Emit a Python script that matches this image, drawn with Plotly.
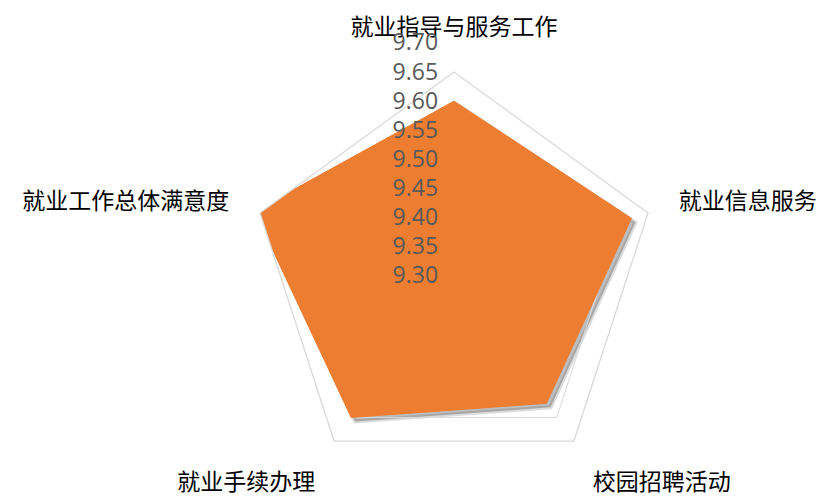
import plotly.graph_objects as go

categories = ["就业指导与服务工作", "就业信息服务", "校园招聘活动", "就业手续办理", "就业工作总体满意度"]
values = [9.60, 9.62, 9.57, 9.60, 9.66]
tick_vals = [9.30, 9.35, 9.40, 9.45, 9.50, 9.55, 9.60, 9.65, 9.70]
tick_text = ["9.30", "9.35", "9.40", "9.45", "9.50", "9.55", "9.60", "9.65", "9.70"]

W, H = 824, 499
CJK = "Noto Sans CJK SC, Noto Sans, sans-serif"

theta = categories + categories[:1]
r = values + values[:1]

fig = go.Figure()

# shadow layer
fig.add_trace(go.Scatterpolar(r=r, theta=theta, subplot="polar", mode="lines",
                              fill="toself", fillcolor="rgba(90,90,90,0.40)",
                              line=dict(color="rgba(90,90,90,0.22)", width=4),
                              hoverinfo="skip", showlegend=False))
# main data
fig.add_trace(go.Scatterpolar(r=r, theta=theta, subplot="polar2", mode="lines",
                              fill="toself", fillcolor="#ED7D31",
                              line=dict(color="#ED7D31", width=1),
                              showlegend=False))
# tick label carrier
fig.add_trace(go.Scatterpolar(r=[None], theta=[90], subplot="polar3", mode="markers",
                              showlegend=False, hoverinfo="skip"))

def px_dom(cx, cy, rad):
    return dict(x=[(cx - rad) / W, (cx + rad) / W], y=[1 - (cy + rad) / H, 1 - (cy - rad) / H])

cx, cy, R = 454, 276, 204
rng_main = [9.30, 9.65]
cx3 = 442

fig.update_layout(
    width=W, height=H,
    margin=dict(l=0, r=0, t=0, b=0),
    paper_bgcolor="white",
    plot_bgcolor="white",
    showlegend=False,
    polar=dict(
        domain=px_dom(cx + 4, cy + 4, R),
        bgcolor="rgba(0,0,0,0)",
        gridshape="linear",
        radialaxis=dict(range=rng_main, visible=False, showgrid=False, showline=False),
        angularaxis=dict(categoryarray=categories, categoryorder="array", rotation=90,
                         direction="clockwise", showgrid=False, showline=False,
                         showticklabels=False, ticks=""),
    ),
    polar2=dict(
        domain=px_dom(cx, cy, R),
        bgcolor="rgba(0,0,0,0)",
        gridshape="linear",
        radialaxis=dict(range=rng_main, tickvals=tick_vals[:-1], showticklabels=False,
                        showgrid=True, gridcolor="#D9D9D9", gridwidth=1.3,
                        showline=False, ticks=""),
        angularaxis=dict(categoryarray=categories, categoryorder="array", rotation=90,
                         direction="clockwise", showgrid=False, showline=True,
                         linecolor="#D9D9D9", linewidth=1.3,
                         ticks="outside", ticklen=27, tickcolor="rgba(0,0,0,0)",
                         tickfont=dict(family=CJK, size=23, color="#000000")),
    ),
    polar3=dict(
        domain=dict(x=[(cx3 - 50) / W, (cx3 + 50) / W], y=[1 - cy / H, 1 - (cy - 233) / H]),
        bgcolor="rgba(0,0,0,0)",
        sector=[80, 100],
        radialaxis=dict(range=[9.30, 9.70], angle=90, tickvals=tick_vals, ticktext=tick_text,
                        side="counterclockwise", showgrid=False, showline=False, ticks="",
                        tickangle=90,
                        tickfont=dict(family="Open Sans, Noto Sans, sans-serif", size=23, color="#595959")),
        angularaxis=dict(showgrid=False, showline=False, showticklabels=False, ticks=""),
    ),
)

fig.write_html("out.html", config={"displayModeBar": False},
               post_script="document.body.style.margin='0';document.body.style.overflow='hidden';")
